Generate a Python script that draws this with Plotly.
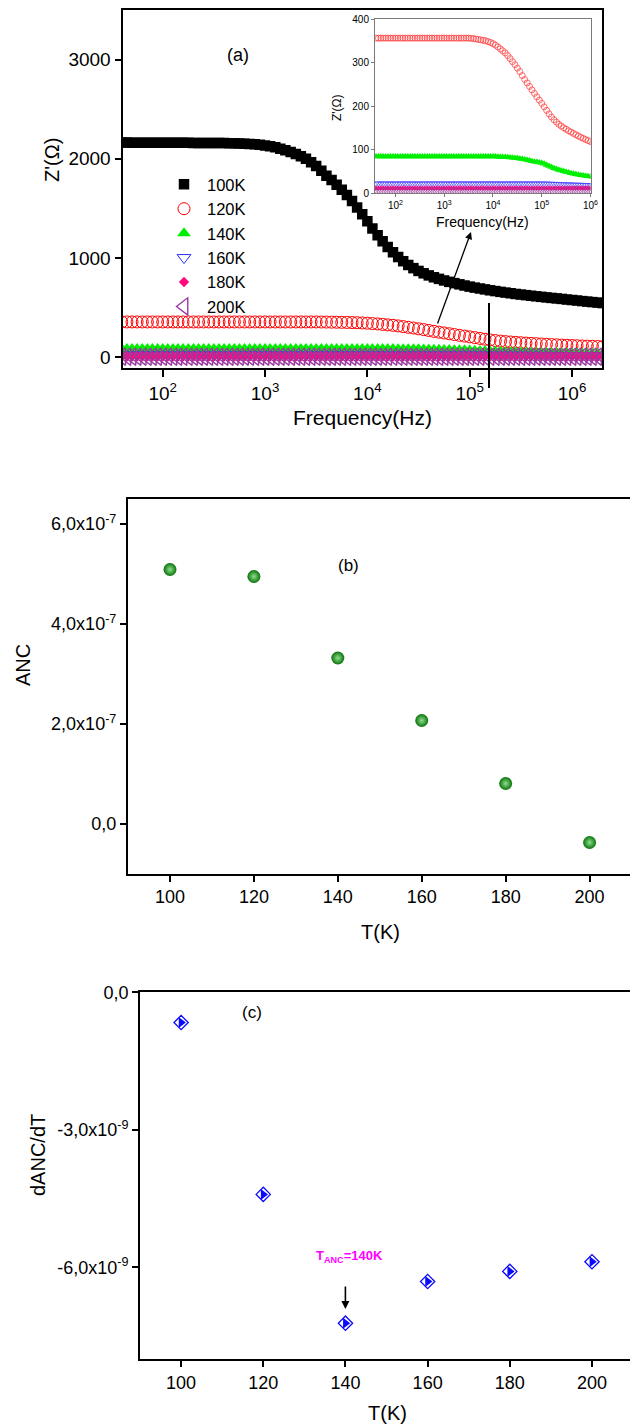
import plotly.graph_objects as go

# ---------------- data ----------------
freq_hz = [
    39.8, 44.7, 50.1, 56.2, 63.1, 70.8, 79.4, 89.1,
    100, 112, 126, 141, 158, 178, 200, 224, 251, 282, 316, 355, 398, 447, 501, 562, 631, 708, 794, 891,
    1000, 1120, 1260, 1410, 1580, 1780, 2000, 2240, 2510, 2820, 3160, 3550, 3980, 4470, 5010, 5620, 6310, 7080, 7940, 8910,
    10000, 11200, 12600, 14100, 15800, 17800, 20000, 22400, 25100, 28200, 31600, 35500, 39800, 44700, 50100, 56200, 63100, 70800, 79400, 89100,
    100000, 112000, 126000, 141000, 158000, 178000, 200000, 224000, 251000, 282000, 316000, 355000, 398000, 447000, 501000, 562000, 631000, 708000, 794000, 891000,
    1000000, 1120000, 1260000, 1410000, 1580000, 1780000, 2000000,
]

Z_100K = [
    2163, 2163, 2162, 2162, 2162, 2162, 2162, 2162,
    2162, 2162, 2161, 2161, 2161, 2161, 2160, 2160, 2160, 2159, 2159, 2158, 2158, 2157, 2156, 2154, 2152, 2149, 2146, 2141,
    2135, 2126, 2116, 2102, 2086, 2068, 2048, 2025, 2000, 1965, 1928, 1880, 1830, 1785, 1738, 1688, 1635, 1575, 1510, 1440,
    1370, 1298, 1230, 1168, 1110, 1058, 1010, 968, 930, 898, 870, 846, 825, 806, 790, 774, 760, 747, 735, 723,
    712, 702, 693, 684, 675, 667, 659, 652, 645, 638, 632, 626, 620, 614, 609, 603, 598, 593, 588, 582,
    577, 572, 566, 561, 556, 551, 546,
]

Z_120K = [
    356, 356, 356, 356, 356, 356, 356, 356,
    356, 356, 356, 356, 356, 356, 356, 356, 356, 356, 356, 356, 356, 356, 356, 356, 356, 356, 356, 356,
    356, 356, 356, 356, 356, 356, 356, 356, 356, 356, 356, 355.5, 355, 354, 353, 352, 351, 350, 348, 346,
    343.5, 340, 336, 331.5, 327, 322, 316, 309, 302, 295, 287, 279, 270, 261, 253, 245, 237, 229, 221, 213.5,
    206, 198, 190, 182, 175, 168.5, 163, 158, 154, 150, 146.5, 143, 140, 137, 134, 131, 128, 125.5, 123, 120.5,
    118, 116, 114, 112, 110.5, 109, 107.5,
]

Z_140K = [
    84, 84, 84, 84, 84, 84, 84, 84,
    84, 84, 84, 84, 84, 84, 84, 84, 84, 84, 84, 84, 84, 84, 84, 84, 84, 84, 84, 84,
    84, 84, 84, 84, 84, 84, 84, 84, 84, 84, 84, 84, 84, 84, 84, 84, 84, 84, 84, 84,
    84, 84, 83.5, 83, 83, 82.5, 82, 81.5, 81, 80.5, 80, 79, 78, 77, 76, 74.5, 73, 72, 71, 70,
    69, 67, 64.5, 62, 59.5, 57, 55, 53, 51.5, 50, 48.5, 47, 45.5, 44, 43, 42, 41, 40, 39, 38.5,
    38, 37, 36.5, 36, 35.5, 35, 34.5,
]

Z_160K = [
    22, 22, 22, 22, 22, 22, 22, 22,
    22, 22, 22, 22, 22, 22, 22, 22, 22, 22, 22, 22, 22, 22, 22, 22, 22, 22, 22, 22,
    22, 22, 22, 22, 22, 22, 22, 22, 22, 22, 22, 22, 22, 22, 22, 22, 22, 22, 22, 22,
    22, 22, 22, 22, 22, 22, 22, 22, 22, 22, 22, 22, 22, 22, 22, 22, 22, 22, 22, 22,
    22, 21.8, 21.7, 21.5, 21.2, 21, 20.9, 20.6, 20.4, 20.3, 20, 19.8, 19.7, 19.4, 19.2, 19, 18.9, 18.6, 18.4, 18.2,
    18, 17.8, 17.5, 17.4, 17.2, 17, 16.8,
]

Z_180K = [
    11, 11, 11, 11, 11, 11, 11, 11,
    11, 11, 11, 11, 11, 11, 11, 11, 11, 11, 11, 11, 11, 11, 11, 11, 11, 11, 11, 11,
    11, 11, 11, 11, 11, 11, 11, 11, 11, 11, 11, 11, 11, 11, 11, 11, 11, 11, 11, 11,
    11, 11, 11, 11, 11, 11, 11, 11, 11, 11, 11, 11, 11, 11, 11, 11, 11, 11, 11, 11,
    11, 11, 11, 11, 11, 11, 11, 11, 11, 11, 11, 11, 11, 11, 11, 11, 11, 11, 11, 11,
    11, 10.9, 10.9, 10.8, 10.8, 10.7, 10.7,
]

Z_200K = [
    6, 6, 6, 6, 6, 6, 6, 6,
    6, 6, 6, 6, 6, 6, 6, 6, 6, 6, 6, 6, 6, 6, 6, 6, 6, 6, 6, 6,
    6, 6, 6, 6, 6, 6, 6, 6, 6, 6, 6, 6, 6, 6, 6, 6, 6, 6, 6, 6,
    6, 6, 6, 6, 6, 6, 6, 6, 6, 6, 6, 6, 6, 6, 6, 6, 6, 6, 6, 6,
    6, 6, 6, 6, 6, 6, 6, 6, 6, 6, 6, 6, 6, 6, 6, 6, 6, 6, 6, 6,
    6, 6, 6, 6, 6, 6, 6,
]

series_names = ["100K", "120K", "140K", "160K", "180K", "200K"]

T_K = [100, 120, 140, 160, 180, 200]
ANC = [5.09e-7, 4.95e-7, 3.32e-7, 2.07e-7, 0.81e-7, -0.37e-7]
dANC_dT = [-0.66e-9, -4.41e-9, -7.22e-9, -6.31e-9, -6.09e-9, -5.88e-9]

freq_ticks = [1e2, 1e3, 1e4, 1e5, 1e6]
freq_ticktext = ["10<sup>2</sup>", "10<sup>3</sup>", "10<sup>4</sup>", "10<sup>5</sup>", "10<sup>6</sup>"]
z_ticks = [0, 1000, 2000, 3000]
inset_ticks = [0, 100, 200, 300, 400]
T_ticks = [100, 120, 140, 160, 180, 200]
anc_ticks = [0, 2e-7, 4e-7, 6e-7]
anc_ticktext = ["0,0", "2,0x10<sup>-7</sup>", "4,0x10<sup>-7</sup>", "6,0x10<sup>-7</sup>"]
danc_ticks = [0, -3e-9, -6e-9]
danc_ticktext = ["0,0", "-3,0x10<sup>-9</sup>", "-6,0x10<sup>-9</sup>"]

# ---------------- figure ----------------
W, H = 630, 1428
FONT = "Liberation Sans, Arial, sans-serif"


def px(x):
    return x / W


def py(y):
    return 1 - y / H


fig = go.Figure()

series = [Z_100K, Z_120K, Z_140K, Z_160K, Z_180K, Z_200K]
main_styles = [
    dict(symbol="square", color="black", size=10.5, line=dict(width=0)),
    dict(symbol="circle-open", color="#ff0000", size=12, line=dict(width=1, color="#ff0000")),
    dict(symbol="triangle-up", color="#00ee00", size=12, line=dict(width=0)),
    dict(symbol="triangle-down-open", color="#2a2aff", size=12, line=dict(width=1, color="#2a2aff")),
    dict(symbol="diamond", color="#ff0a7f", size=8, line=dict(width=0)),
    dict(symbol="triangle-left-open", color="#9a3aa0", size=15, line=dict(width=1.4, color="#9a3aa0")),
]
inset_styles = [
    None,
    dict(symbol="circle-open", color="#ff3030", size=6, line=dict(width=0.7, color="#ff3030")),
    dict(symbol="triangle-up", color="#00ee00", size=7, line=dict(width=0)),
    dict(symbol="triangle-down-open", color="#3a3aff", size=6, line=dict(width=0.6, color="#3a3aff")),
    dict(symbol="diamond", color="#ff0a7f", size=4, line=dict(width=0)),
    dict(symbol="triangle-left-open", color="#9a3aa0", size=6, line=dict(width=0.6, color="#9a3aa0")),
]

for name, vals, st in zip(series_names, series, main_styles):
    fig.add_trace(go.Scatter(x=freq_hz, y=vals, mode="markers", name=name, marker=st,
                             xaxis="x", yaxis="y", showlegend=True))

for name, vals, st in zip(series_names, series, inset_styles):
    if st is None:
        continue
    fig.add_trace(go.Scatter(x=freq_hz, y=vals, mode="markers", name=name, marker=st,
                             xaxis="x2", yaxis="y2", showlegend=False))

# panel (b)
fig.add_trace(go.Scatter(x=T_K, y=ANC, mode="markers", showlegend=False,
                         marker=dict(symbol="circle", size=13, color="#0a720a",
                                     gradient=dict(type="radial", color="#8ee08e"),
                                     line=dict(width=0)),
                         xaxis="x3", yaxis="y3"))

# panel (c): half-filled diamonds
fig.add_trace(go.Scatter(x=T_K, y=dANC_dT, mode="markers", showlegend=False,
                         marker=dict(symbol="diamond-open", size=11, color="#0a0aff",
                                     line=dict(width=1.3, color="#0a0aff")),
                         xaxis="x4", yaxis="y4"))
fig.add_trace(go.Scatter(x=T_K, y=dANC_dT, mode="markers", showlegend=False,
                         marker=dict(symbol="triangle-right", size=9.5, color="#0a0aff",
                                     line=dict(width=0)),
                         xaxis="x4", yaxis="y4"))

axis_common = dict(showgrid=False, zeroline=False, showline=True, linecolor="black",
                   ticks="outside", tickcolor="black", automargin=False,
                   tickfont=dict(family=FONT, size=19, color="black"))

fig.update_layout(
    template="none",
    width=W, height=H,
    margin=dict(l=0, r=0, t=0, b=0),
    paper_bgcolor="white", plot_bgcolor="rgba(0,0,0,0)",
    font=dict(family=FONT, color="black"),
    showlegend=True,
    legend=dict(x=px(161), y=py(167), xanchor="left", yanchor="top",
                font=dict(family=FONT, size=16.5, color="black"),
                bgcolor="rgba(0,0,0,0)", borderwidth=0, tracegroupgap=0,
                itemsizing="trace", itemwidth=36),
    xaxis=dict(axis_common, type="log", range=[1.607, 6.293], domain=[px(122.5), px(602)],
               anchor="y", tickvals=freq_ticks, ticktext=freq_ticktext, ticklen=7, tickwidth=1.5,
               linewidth=2, mirror=True),
    yaxis=dict(axis_common, range=[-108, 3499], domain=[py(368), py(10)], anchor="x",
               tickvals=z_ticks, ticklen=6, tickwidth=1.5, linewidth=2, mirror=True),
    xaxis2=dict(axis_common, type="log", range=[1.58, 6.0], domain=[px(375), px(590.5)],
                anchor="y2", tickvals=freq_ticks, ticktext=freq_ticktext, ticklen=3, tickwidth=1,
                linewidth=1, linecolor="#7a7a7a", tickcolor="#7a7a7a", mirror=True,
                tickfont=dict(family=FONT, size=10, color="black")),
    yaxis2=dict(axis_common, range=[0, 400], domain=[py(193), py(19)], anchor="x2",
                tickvals=inset_ticks, ticklen=3, tickwidth=1, linewidth=1, linecolor="#7a7a7a",
                tickcolor="#7a7a7a", mirror=True,
                tickfont=dict(family=FONT, size=10, color="black")),
    xaxis3=dict(axis_common, range=[89.92, 209.63], domain=[px(127.7), 1.0], anchor="y3",
                tickvals=T_ticks, ticklen=6, tickwidth=1.5, linewidth=1.5, mirror=True,
                tickfont=dict(family=FONT, size=18, color="black")),
    yaxis3=dict(axis_common, range=[-1e-7, 6.5e-7], domain=[py(874), py(499)], anchor="x3",
                tickvals=anc_ticks, ticktext=anc_ticktext, ticklen=6, tickwidth=1.5,
                linewidth=1.5, mirror=False,
                tickfont=dict(family=FONT, size=18, color="black")),
    xaxis4=dict(axis_common, range=[89.95, 209.25], domain=[px(139.8), 1.0], anchor="y4",
                tickvals=T_ticks, ticklen=6, tickwidth=1.5, linewidth=1.5, mirror=True,
                tickfont=dict(family=FONT, size=18, color="black")),
    yaxis4=dict(axis_common, range=[-8.008e-9, 0], domain=[py(1359.3), py(992.3)], anchor="x4",
                tickvals=danc_ticks, ticktext=danc_ticktext, ticklen=6, tickwidth=1.5,
                linewidth=1.5, mirror=False,
                tickfont=dict(family=FONT, size=18, color="black")),
)


def label(text, x, y, size, angle=0, color="black", bold=False):
    t = "<b>" + text + "</b>" if bold else text
    return dict(text=t, x=px(x), y=py(y), xref="paper", yref="paper", showarrow=False,
                xanchor="center", yanchor="middle", textangle=angle,
                font=dict(family=FONT, size=size, color=color))


annotations = [
    label("Z'(Ω)", 52, 160, 20, angle=-90),
    label("Frequency(Hz)", 362.5, 417, 21),
    label("Frequency(Hz)", 482.5, 222, 14),
    label("Z'(Ω)", 337, 108, 12, angle=-90),
    label("(a)", 238, 55, 18),
    label("ANC", 23, 665, 20, angle=-90),
    label("T(K)", 380, 932, 20),
    label("(b)", 348.6, 566, 17),
    label("dANC/dT", 38, 1155, 20, angle=-90),
    label("T(K)", 387.5, 1413, 20),
    label("(c)", 251.8, 1012, 17),
    label("T<sub>ANC</sub>=140K", 349, 1256, 13, color="#ff00ff", bold=True),
    # arrow in panel (a) pointing to the inset
    dict(x=px(471), y=py(232), xref="paper", yref="paper", ax=437 - 471, ay=325 - 232,
         axref="pixel", ayref="pixel", showarrow=True, arrowhead=2, arrowsize=1.1,
         arrowwidth=1.3, arrowcolor="black", text=""),
    # arrow in panel (c)
    dict(x=px(345.4), y=py(1309), xref="paper", yref="paper", ax=0, ay=-24,
         showarrow=True, arrowhead=2, arrowsize=1.0, arrowwidth=1.6, arrowcolor="black", text=""),
]
fig.update_layout(annotations=annotations)

fig.update_layout(shapes=[
    dict(type="line", xref="paper", yref="paper", x0=px(489), x1=px(489), y0=py(303), y1=py(388),
         line=dict(color="black", width=2)),
])

fig.write_html("out.html")
